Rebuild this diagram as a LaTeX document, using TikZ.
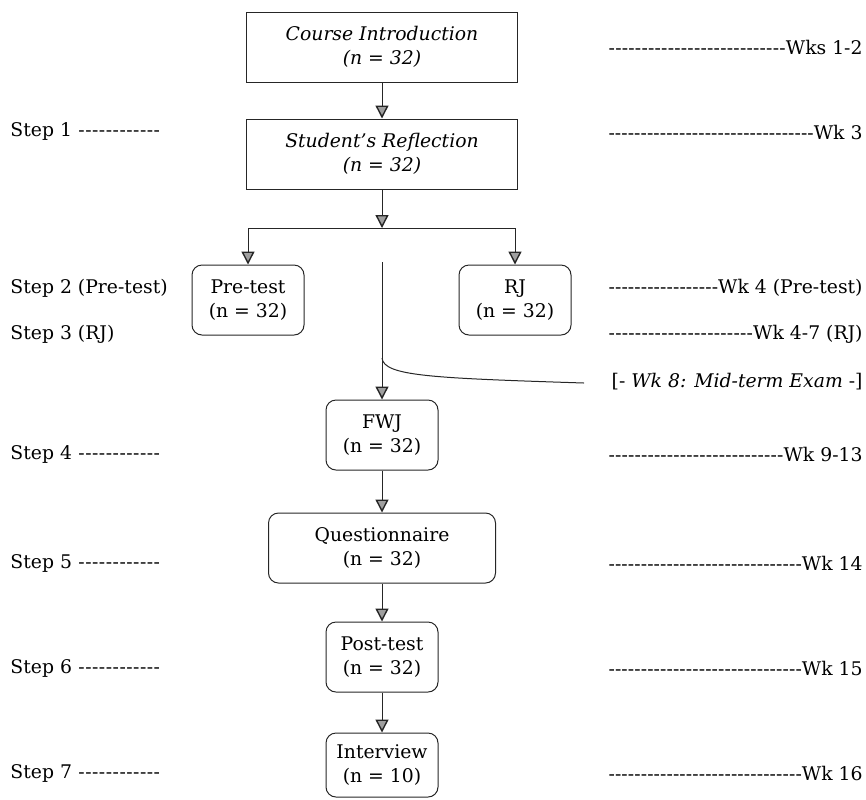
\documentclass[tikz,border=0pt]{standalone}
\usepackage{fontspec}
\setmainfont{DejaVu Serif}
\usetikzlibrary{arrows.meta,positioning}

\newcommand\figfont{\fontsize{9.4}{12}\selectfont}
% rows of hyphens that fill a given width
\newcommand\steprow[1]{\hbox to 75pt{#1\ \xleaders\hbox{-}\hfill}}
\newcommand\wkrow[1]{\hbox to 127pt{\xleaders\hbox{-}\hfill#1}}

\begin{document}
\begin{tikzpicture}[x=0.5pt,y=-0.5pt,
  line width=0.5pt, draw=black!85,
  every node/.style={font=\figfont, inner sep=0pt},
  sqbox/.style={draw, rectangle, align=center, minimum width=135.5pt, minimum height=35pt, font=\figfont\itshape},
  rbox/.style={draw, rectangle, rounded corners=5pt, align=center, minimum width=56pt, minimum height=35pt},
  arr/.style={-{Triangle[length=6.5pt,width=6.5pt,fill=gray!75,line width=0.7pt]}}]
\useasboundingbox (0,0) rectangle (866,799);

\node[sqbox] (intro) at (382,47) {Course Introduction\\(n = 32)};
\node[sqbox] (reflect) at (382,154) {Student's Reflection\\(n = 32)};
\node[rbox] (pretest) at (248,300) {Pre-test\\(n = 32)};
\node[rbox] (rj) at (515,300) {RJ\\(n = 32)};
\node[rbox] (fwj) at (382,435) {FWJ\\(n = 32)};
\node[rbox, minimum width=113.5pt] (quest) at (382,548) {Questionnaire\\(n = 32)};
\node[rbox] (post) at (382,657) {Post-test\\(n = 32)};
\node[rbox, minimum height=32pt] (interv) at (382,765) {Interview\\(n = 10)};

\coordinate (split) at (382,228);
\coordinate (gap) at (382,262);
\coordinate (bend) at (382,358);
\coordinate (exam) at (584,383);

\draw[arr] (intro) -- (reflect);
\draw[arr] (reflect) -- (split);
\draw[arr] (split) -| (pretest);
\draw[arr] (split) -| (rj);
\draw[arr] (gap) -- (fwj);
\draw (bend) .. controls (384,376) and (430,378) .. (exam);
\draw[arr] (fwj) -- (quest);
\draw[arr] (quest) -- (post);
\draw[arr] (post) -- (interv);

% steps on the left
\node[anchor=west] (s1) at (10,131) {\steprow{Step 1}};
\node[anchor=west] (s2) at (10,288) {Step 2 (Pre-test)};
\node[anchor=west] (s3) at (10,334) {Step 3 (RJ)};
\node[anchor=west] (s4) at (10,454) {\steprow{Step 4}};
\node[anchor=west] (s5) at (10,563) {\steprow{Step 5}};
\node[anchor=west] (s6) at (10,668) {\steprow{Step 6}};
\node[anchor=west] (s7) at (10,773) {\steprow{Step 7}};

% weeks on the right
\node[anchor=west] (w1) at (608,47) {\wkrow{Wks 1-2}};
\node[anchor=west] (w3) at (608,132) {\wkrow{Wk 3}};
\node[anchor=west] (w4) at (608,288) {\wkrow{Wk 4 (Pre-test)}};
\node[anchor=west] (w47) at (608,334) {\wkrow{Wk 4-7 (RJ)}};
\node[anchor=west] (w8) at (608,382) {\hbox to 127pt{\hfill[- \textit{Wk 8: Mid-term Exam} -]}};
\node[anchor=west] (w9) at (608,454) {\wkrow{Wk 9-13}};
\node[anchor=west] (w14) at (608,563) {\wkrow{Wk 14}};
\node[anchor=west] (w15) at (608,668) {\wkrow{Wk 15}};
\node[anchor=west] (w16) at (608,773) {\wkrow{Wk 16}};
\end{tikzpicture}
\end{document}
